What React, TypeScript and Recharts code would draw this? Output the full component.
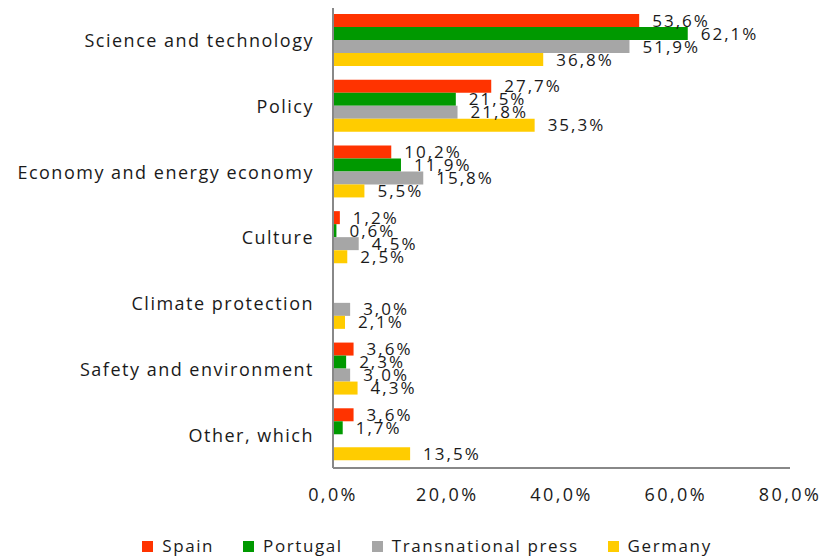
import { BarChart, Bar, XAxis, YAxis, LabelList, Legend } from 'recharts'

const CATEGORIES = [
  'Science and technology',
  'Policy',
  'Economy and energy economy',
  'Culture',
  'Climate protection',
  'Safety and environment',
  'Other, which',
]

const SPAIN = [53.6, 27.7, 10.2, 1.2, null, 3.6, 3.6]
const PORTUGAL = [62.1, 21.5, 11.9, 0.6, null, 2.3, 1.7]
const TRANSNATIONAL = [51.9, 21.8, 15.8, 4.5, 3.0, 3.0, null]
const GERMANY = [36.8, 35.3, 5.5, 2.5, 2.1, 4.3, 13.5]

const X_TICKS = [0, 20, 40, 60, 80]

const SERIES = [
  { key: 'spain', name: 'Spain', color: '#FF3300' },
  { key: 'portugal', name: 'Portugal', color: '#009900' },
  { key: 'transnational', name: 'Transnational press', color: '#A6A6A6' },
  { key: 'germany', name: 'Germany', color: '#FFCC00' },
]

const data = CATEGORIES.map((category, i) => ({
  category,
  spain: SPAIN[i],
  portugal: PORTUGAL[i],
  transnational: TRANSNATIONAL[i],
  germany: GERMANY[i],
}))

const FONT = '"Open Sans", "Noto Sans", sans-serif'
const TEXT = '#1a1a1a'

const fmt = (v: unknown) => {
  if (v === null || v === undefined) return ''
  return (v as number).toFixed(1).replace('.', ',') + '%'
}

const renderLegend = () => (
  <div
    style={{
      display: 'flex',
      justifyContent: 'center',
      alignItems: 'flex-end',
      height: 42,
      paddingBottom: 4,
      boxSizing: 'border-box',
      gap: 29,
      fontFamily: FONT,
      fontSize: 17,
      letterSpacing: 1.6,
      lineHeight: '20px',
      color: TEXT,
    }}
  >
    {SERIES.map((s) => (
      <div key={s.key} style={{ display: 'flex', alignItems: 'center', gap: 9 }}>
        <span style={{ display: 'inline-block', width: 11, height: 11, background: s.color }} />
        <span>{s.name}</span>
      </div>
    ))}
  </div>
)

export default function App() {
  return (
    <div style={{ position: 'absolute', left: 0, top: 0, background: '#fff' }}>
      <BarChart
        width={829}
        height={560}
        data={data}
        layout="vertical"
        margin={{ top: 8, right: 39, bottom: 0, left: 0 }}
        barCategoryGap={6}
        barGap={0}
      >
        <XAxis
          type="number"
          domain={[0, 80]}
          ticks={X_TICKS}
          tickFormatter={(v: number) => fmt(v)}
          tick={{ fill: TEXT, fontSize: 18, fontFamily: FONT, letterSpacing: 2.4 }}
          tickLine={false}
          tickSize={0}
          tickMargin={20}
          axisLine={{ stroke: '#888', strokeWidth: 2 }}
          height={50}
        />
        <YAxis
          type="category"
          dataKey="category"
          width={333}
          tick={{ fill: TEXT, fontSize: 18, fontFamily: FONT, letterSpacing: 1.5 }}
          tickLine={false}
          tickSize={0}
          tickMargin={19}
          axisLine={{ stroke: '#888', strokeWidth: 2 }}
        />
        <Legend verticalAlign="bottom" height={42} content={renderLegend} wrapperStyle={{ left: 32 }} />
        {SERIES.map((s) => (
          <Bar key={s.key} dataKey={s.key} name={s.name} fill={s.color} isAnimationActive={false}>
            <LabelList
              dataKey={s.key}
              position="right"
              offset={13}
              formatter={fmt}
              style={{ fill: TEXT, fontSize: 17, fontFamily: FONT, letterSpacing: 2 }}
            />
          </Bar>
        ))}
      </BarChart>
    </div>
  )
}
